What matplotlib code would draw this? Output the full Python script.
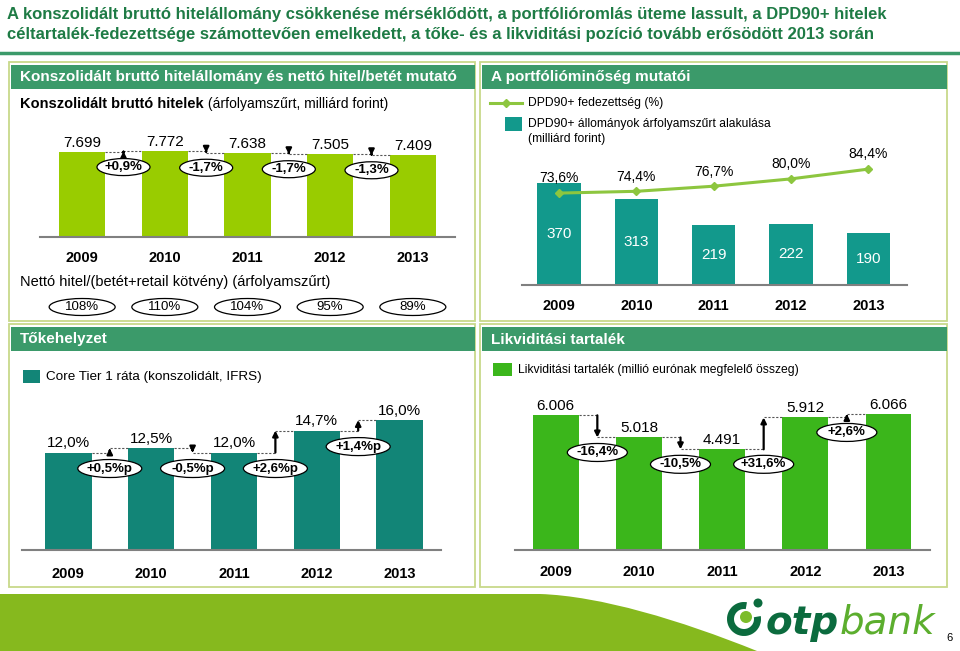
import matplotlib
matplotlib.use('Agg')
import matplotlib.pyplot as plt
from matplotlib.patches import Rectangle, Ellipse, Wedge, Circle, PathPatch
from matplotlib.path import Path
from matplotlib.transforms import ScaledTranslation

plt.rcParams['font.family'] = ['Liberation Sans', 'DejaVu Sans']

W, H = 960, 651

years = ['2009', '2010', '2011', '2012', '2013']

# konszolidalt brutto hitelek (mrd Ft)
loans = [7699, 7772, 7638, 7505, 7409]
loan_changes = ['+0,9%', '-1,7%', '-1,7%', '-1,3%']
ltd_ratio = ['108%', '110%', '104%', '95%', '89%']

# DPD90+ allomany (mrd Ft) es fedezettseg (%)
dpd_volume = [370, 313, 219, 222, 190]
dpd_coverage = [73.6, 74.4, 76.7, 80.0, 84.4]

# Core Tier 1 rata (%)
ct1 = [12.0, 12.5, 12.0, 14.7, 16.0]
ct1_changes = ['+0,5%p', '-0,5%p', '+2,6%p', '+1,4%p']

# likviditasi tartalek (millio EUR)
liquidity = [6006, 5018, 4491, 5912, 6066]
liq_changes = ['-16,4%', '-10,5%', '+31,6%', '+2,6%']

TITLE_GREEN = '#1e7b45'
HEAD_GREEN = '#3b9a6a'
BORDER = '#c8d98a'


def hu_int(v):
    return f'{v:,}'.replace(',', '.')


def hu_pct(v):
    return f'{v:.1f}%'.replace('.', ',')


fig = plt.figure(figsize=(W / 100, H / 100), dpi=100)
bg = fig.add_axes([0, 0, 1, 1], zorder=0)
bg.set_xlim(0, W)
bg.set_ylim(H, 0)
bg.axis('off')


def px_axes(x0, y0, x1, y1):
    ax = fig.add_axes([x0 / W, 1 - y1 / H, (x1 - x0) / W, (y1 - y0) / H], zorder=2)
    ax.patch.set_alpha(0)
    return ax


def style(ax, pad):
    for s in ['top', 'left', 'right']:
        ax.spines[s].set_visible(False)
    ax.spines['bottom'].set_color('#808080')
    ax.spines['bottom'].set_linewidth(1.5)
    ax.set_yticks([])
    ax.set_xticks(range(5), years, fontweight='bold', fontsize=10.5)
    ax.tick_params(axis='x', length=0, pad=pad)


def oval(ax, x, y, text, w, h, dy, weight='bold', size=9.5):
    tr = fig.dpi_scale_trans + ScaledTranslation(x, y, ax.transData)
    e = Ellipse((0, -dy / 100), w / 100, h / 100, transform=tr, fc='white',
                ec='black', lw=0.9, zorder=5, clip_on=False)
    ax.add_artist(e)
    ax.annotate(text, (x, y), xytext=(0, -dy * 0.72), textcoords='offset points',
                ha='center', va='center', fontsize=size, fontweight=weight,
                zorder=6, annotation_clip=False)


def changes(ax, vals, labels, w, ow, oh, dy):
    for i in range(len(vals) - 1):
        a, b = vals[i], vals[i + 1]
        xl, xm, xr = i + w / 2, i + 0.5, i + 1 - w / 2
        ax.plot([xl, xm], [a, a], ls=(0, (2, 1.5)), color='#555555', lw=0.8)
        ax.plot([xm, xr], [b, b], ls=(0, (2, 1.5)), color='#555555', lw=0.8)
        ax.annotate('', xy=(xm, b), xytext=(xm, a),
                    arrowprops=dict(arrowstyle='-|>', color='black', lw=1.6,
                                    mutation_scale=8, shrinkA=0, shrinkB=0))
        oval(ax, xm, min(a, b), labels[i], ow, oh, dy)


# ---- slide frame ----
bg.text(7, 14, 'A konszolidált bruttó hitelállomány csökkenése mérséklődött, a portfólióromlás üteme lassult, a DPD90+ hitelek',
        color=TITLE_GREEN, fontsize=12, fontweight='bold', va='center')
bg.text(7, 34, 'céltartalék-fedezettsége számottevően emelkedett, a tőke- és a likviditási pozíció tovább erősödött 2013 során',
        color=TITLE_GREEN, fontsize=12, fontweight='bold', va='center')
bg.plot([0, W], [53, 53], color=HEAD_GREEN, lw=2.5)

panels = [(9, 62, 466, 259), (480, 62, 467, 259), (9, 324, 466, 263), (480, 324, 467, 263)]
headers = ['Konszolidált bruttó hitelállomány és nettó hitel/betét mutató',
           'A portfólióminőség mutatói', 'Tőkehelyzet', 'Likviditási tartalék']
for (x, y, w, h), t in zip(panels, headers):
    bg.add_patch(Rectangle((x, y), w, h, fc='white', ec=BORDER, lw=1.3))
    bg.add_patch(Rectangle((x + 2, y + 3), w - 2, 24, fc=HEAD_GREEN, ec='none'))
    bg.text(x + 11, y + 15.5, t, color='white', fontsize=11, fontweight='bold', va='center')

# footer band and logo
band = Path([(0, 594), (540, 594), (600, 596), (680, 620), (757, 651), (0, 651), (0, 594)],
            [Path.MOVETO, Path.LINETO, Path.CURVE4, Path.CURVE4, Path.CURVE4, Path.LINETO, Path.CLOSEPOLY])
bg.add_patch(PathPatch(band, fc='#86b91e', ec='none'))
bg.add_patch(Wedge((744, 619), 17, -10, 280, width=7, fc='#0b6b3e', ec='none'))
bg.add_patch(Circle((746, 617), 6, fc='#7cbc2a', ec='none'))
bg.add_patch(Circle((758, 603), 4.5, fc='#0b6b3e', ec='none'))
t_otp = bg.text(766, 634, 'otp', color='#0b6b3e', fontsize=28, fontweight='bold',
                fontstyle='italic', family='DejaVu Sans', va='baseline')
bg.annotate('bank', xy=(1, 0), xycoords=t_otp, va='bottom', color='#5cae2e', fontsize=28,
            fontstyle='italic', family='DejaVu Sans')
bg.text(946, 638, '6', fontsize=8, va='center')

# ---- panel 1: konszolidalt brutto hitelek ----
t1 = bg.text(20, 104, 'Konszolidált bruttó hitelek', fontsize=10.5, fontweight='bold', va='center')
bg.annotate(' (árfolyamszűrt, milliárd forint)', xy=(1, 0), xycoords=t1, va='bottom', fontsize=10)

ax1 = px_axes(40, 130, 455, 237)
bw1 = 0.56
ax1.bar(range(5), loans, width=bw1, color='#99cc00', zorder=2)
for i, v in enumerate(loans):
    ax1.annotate(hu_int(v), (i, v), xytext=(0, 1.5), textcoords='offset points',
                 ha='center', va='bottom', fontsize=11)
changes(ax1, loans, loan_changes, bw1, 53, 17, 15)
for i, r in enumerate(ltd_ratio):
    oval(ax1, i, 0, r, 66, 17, 70, weight='normal', size=9.5)
ax1.set_xlim(-0.51, 4.51)
ax1.set_ylim(0, 9700)
style(ax1, 10)
bg.text(20, 282, 'Nettó hitel/(betét+retail kötvény) (árfolyamszűrt)', fontsize=10.5, va='center')

# ---- panel 2: portfoliominoseg ----
bg.plot([490, 522], [103, 103], color='#8dc63f', lw=2.2)
bg.plot([506], [103], marker='D', ms=4, color='#8dc63f')
bg.text(528, 103, 'DPD90+ fedezettség (%)', fontsize=8.7, va='center')
bg.add_patch(Rectangle((505, 117), 17, 14, fc='#12998c', ec='none'))
bg.text(528, 124, 'DPD90+ állományok árfolyamszűrt alakulása', fontsize=8.7, va='center')
bg.text(528, 139, '(milliárd forint)', fontsize=8.7, va='center')

ax2 = px_axes(522, 160, 907, 285)
ax2.bar(range(5), dpd_volume, width=0.56, color='#12998c', zorder=2)
for i, v in enumerate(dpd_volume):
    ax2.text(i, v / 2, str(v), ha='center', va='center', color='white', fontsize=11)
ax2.set_xlim(-0.48, 4.5)
ax2.set_ylim(0, 453)
style(ax2, 10)
ax2b = ax2.twinx()
ax2b.plot(range(5), dpd_coverage, color='#8dc63f', lw=2.2, marker='D', ms=4.5)
for i, v in enumerate(dpd_coverage):
    ax2b.annotate(hu_pct(v), (i, v), xytext=(0, 5.5), textcoords='offset points',
                  ha='center', va='bottom', fontsize=10)
ax2b.set_ylim(32.2, 88.5)
ax2b.axis('off')

# ---- panel 3: tokehelyzet ----
bg.add_patch(Rectangle((23, 370), 17, 13, fc='#128577', ec='none'))
bg.text(46, 377, 'Core Tier 1 ráta (konszolidált, IFRS)', fontsize=9.7, va='center')

ax3 = px_axes(22, 395, 441, 550)
bw3 = 0.56
ax3.bar(range(5), ct1, width=bw3, color='#128577', zorder=2)
for i, v in enumerate(ct1):
    ax3.annotate(hu_pct(v), (i, v), xytext=(0, 1.5), textcoords='offset points',
                 ha='center', va='bottom', fontsize=11)
changes(ax3, ct1, ct1_changes, bw3, 64, 18, 16)
ax3.set_xlim(-0.56, 4.5)
ax3.set_ylim(0, 19.08)
style(ax3, 12)

# ---- panel 4: likviditasi tartalek ----
bg.add_patch(Rectangle((493, 363), 19, 13, fc='#3bb61b', ec='none'))
bg.text(518, 370, 'Likviditási tartalék (millió eurónak megfelelő összeg)', fontsize=8.7, va='center')

ax4 = px_axes(515, 395, 930, 550)
bw4 = 0.55
ax4.bar(range(5), liquidity, width=bw4, color='#3bb61b', zorder=2)
for i, v in enumerate(liquidity):
    ax4.annotate(hu_int(v), (i, v), xytext=(0, 1.5), textcoords='offset points',
                 ha='center', va='bottom', fontsize=11)
changes(ax4, liquidity, liq_changes, bw4, 60, 18, 15)
ax4.set_xlim(-0.49, 4.5)
ax4.set_ylim(0, 6913)
style(ax4, 10.5)

fig.savefig('out.png', dpi=100)
